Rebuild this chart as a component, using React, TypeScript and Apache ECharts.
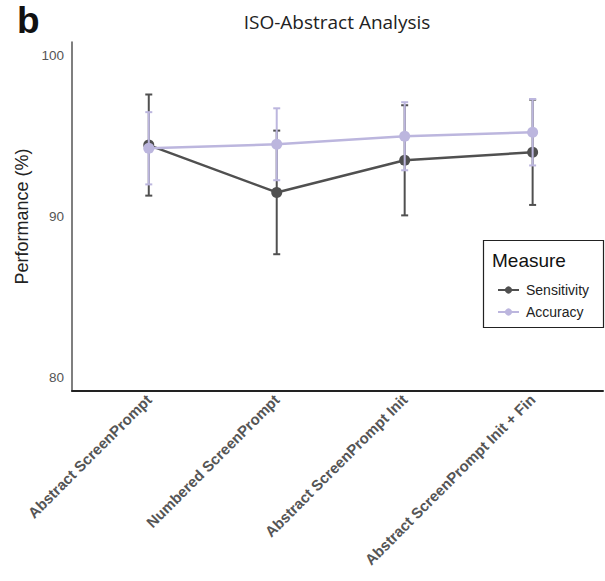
import React, { useEffect, useRef } from "react";
import * as echarts from "echarts";

const categories = [
  "Abstract ScreenPrompt",
  "Numbered ScreenPrompt",
  "Abstract ScreenPrompt Init",
  "Abstract ScreenPrompt Init + Fin",
];
const sensitivity = [94.45, 91.5, 93.5, 94.0];
const sensitivityErr = [3.15, 3.85, 3.43, 3.28];
const accuracy = [94.25, 94.5, 95.0, 95.25];
const accuracyErr = [2.25, 2.24, 2.12, 2.07];
const yTicks = [80, 90, 100];

const DARK = "#505050";
const LAV = "#bcb6de";

function errorSeries(name: string, vals: number[], errs: number[], color: string, z: number) {
  return {
    name: name + "-err",
    type: "custom",
    z,
    silent: true,
    data: vals.map((v, i) => [i, v - errs[i], v + errs[i]]),
    renderItem: (params: any, api: any) => {
      const x = api.value(0);
      const lo = api.coord([x, api.value(1)]);
      const hi = api.coord([x, api.value(2)]);
      const w = 3.5;
      const style = { stroke: color, lineWidth: 2 };
      return {
        type: "group",
        children: [
          { type: "line", shape: { x1: lo[0], y1: lo[1], x2: hi[0], y2: hi[1] }, style },
          { type: "line", shape: { x1: lo[0] - w, y1: lo[1], x2: lo[0] + w, y2: lo[1] }, style },
          { type: "line", shape: { x1: hi[0] - w, y1: hi[1], x2: hi[0] + w, y2: hi[1] }, style },
        ],
      };
    },
  };
}

export default function App() {
  const ref = useRef<HTMLDivElement>(null);
  useEffect(() => {
    if (!ref.current) return;
    const chart = echarts.init(ref.current, null, { renderer: "svg" });
    chart.setOption({
      animation: false,
      grid: { left: 72, right: 2, top: 42, bottom: 190, containLabel: false },
      xAxis: {
        type: "value",
        min: -0.6,
        max: 3.55,
        splitLine: { show: false },
        axisTick: { show: false },
        axisLine: { show: true, onZero: false, lineStyle: { color: "#222", width: 2 } },
        axisLabel: {
          customValues: [0, 1, 2, 3],
          formatter: (v: number) => categories[Math.round(v)],
          rotate: 45,
          color: "#555",
          fontSize: 15,
          fontWeight: "bold",
          fontFamily: "Liberation Sans",
          margin: 6,
        },
      },
      yAxis: {
        type: "value",
        min: 79.13,
        max: 100.87,
        splitLine: { show: false },
        axisTick: { show: false },
        axisLine: { show: true, onZero: false, lineStyle: { color: "#555", width: 1.5 } },
        axisLabel: {
          customValues: yTicks,
          color: "#555",
          fontSize: 13.5,
          fontFamily: "Liberation Sans",
          margin: 8,
        },
        name: "Performance (%)",
        nameLocation: "middle",
        nameGap: 40,
        nameTextStyle: { color: "#222", fontSize: 18, fontFamily: "Liberation Sans" },
      },
      legend: {
        orient: "vertical",
        left: 492,
        top: 278,
        z: 20,
        itemGap: 8,
        itemWidth: 21,
        itemHeight: 9,
        data: ["Sensitivity", "Accuracy"],
        textStyle: { color: "#222", fontSize: 14, fontFamily: "Liberation Sans", padding: [0, 0, 0, 2] },
      },
      graphic: [
        {
          type: "text",
          x: 17,
          y: 2,
          style: { text: "b", font: "bold 37px Liberation Sans", fill: "#111", textVerticalAlign: "top" },
        },
        {
          type: "text",
          x: 337,
          y: 22,
          style: {
            text: "ISO-Abstract Analysis",
            font: "19px 'Open Sans'",
            fill: "#222",
            textAlign: "center",
            textVerticalAlign: "middle",
          },
        },
        {
          type: "rect",
          z: 1,
          shape: { x: 483.5, y: 240.5, width: 120, height: 87 },
          style: { fill: "#fff", stroke: "#222", lineWidth: 1.2 },
        },
        {
          type: "text",
          x: 492,
          y: 260,
          z: 2,
          style: {
            text: "Measure",
            font: "19px Liberation Sans",
            fill: "#111",
            textVerticalAlign: "middle",
          },
        },
      ],
      series: [
        errorSeries("Sensitivity", sensitivity, sensitivityErr, DARK, 2),
        {
          name: "Sensitivity",
          type: "line",
          z: 3,
          data: sensitivity.map((v, i) => [i, v]),
          symbol: "circle",
          symbolSize: 11,
          itemStyle: { color: DARK },
          lineStyle: { color: DARK, width: 2.5 },
        },
        errorSeries("Accuracy", accuracy, accuracyErr, LAV, 4),
        {
          name: "Accuracy",
          type: "line",
          z: 5,
          data: accuracy.map((v, i) => [i, v]),
          symbol: "circle",
          symbolSize: 11,
          itemStyle: { color: LAV },
          lineStyle: { color: LAV, width: 2.5 },
        },
      ],
    });
    return () => chart.dispose();
  }, []);
  return (
    <div
      ref={ref}
      style={{ position: "absolute", left: 0, top: 0, width: 605, height: 581 }}
    />
  );
}
